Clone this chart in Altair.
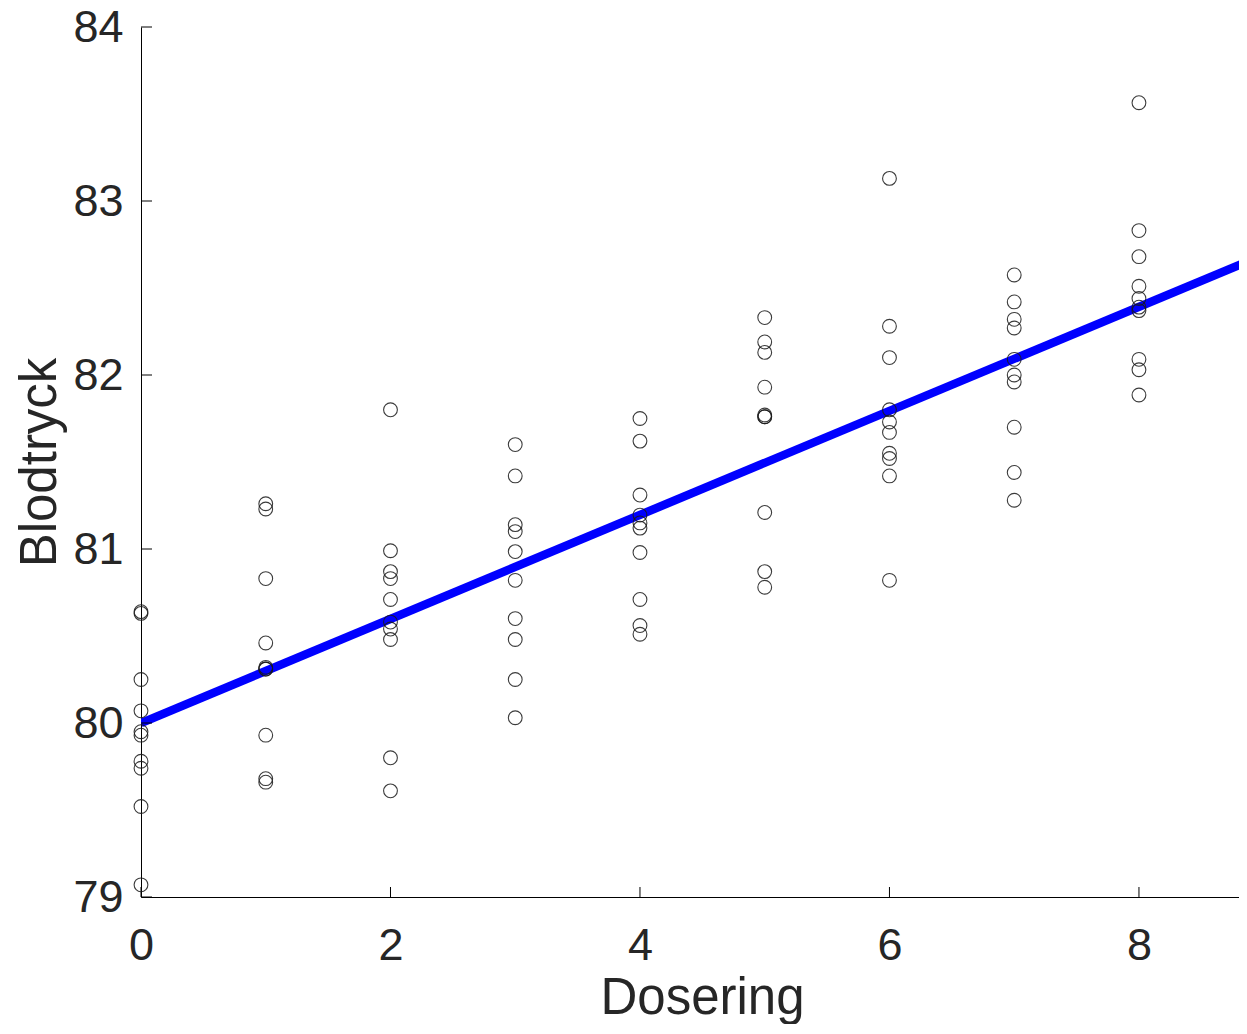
import altair as alt
import pandas as pd

# Observations: dose level and the measured blood pressure values
dose_levels = [0, 1, 2, 3, 4, 5, 6, 7, 8]
bp_dose0 = [80.64, 80.63, 80.25, 80.07, 79.95, 79.93, 79.78, 79.74, 79.52, 79.07]
bp_dose1 = [81.26, 81.23, 80.83, 80.46, 80.32, 80.31, 80.31, 79.93, 79.68, 79.66]
bp_dose2 = [81.80, 80.99, 80.87, 80.83, 80.71, 80.58, 80.54, 80.48, 79.80, 79.61]
bp_dose3 = [81.60, 81.42, 81.14, 81.10, 80.985, 80.82, 80.60, 80.48, 80.25, 80.03]
bp_dose4 = [81.75, 81.62, 81.31, 81.195, 81.15, 81.12, 80.98, 80.71, 80.56, 80.51]
bp_dose5 = [82.33, 82.19, 82.13, 81.93, 81.77, 81.76, 81.76, 81.21, 80.87, 80.78]
bp_dose6 = [83.13, 82.28, 82.10, 81.80, 81.73, 81.67, 81.55, 81.52, 81.42, 80.82]
bp_dose7 = [82.575, 82.42, 82.32, 82.27, 82.09, 82.00, 81.96, 81.70, 81.44, 81.28]
bp_dose8 = [83.565, 82.83, 82.68, 82.51, 82.44, 82.39, 82.37, 82.09, 82.03, 81.885]

# Fitted regression line
fit_intercept = 80.0
fit_slope = 0.299

x_ticks = [0, 2, 4, 6, 8]
y_ticks = [79, 80, 81, 82, 83, 84]
x_domain = [0, 8.802]
y_domain = [79, 84]

groups = [bp_dose0, bp_dose1, bp_dose2, bp_dose3, bp_dose4,
          bp_dose5, bp_dose6, bp_dose7, bp_dose8]
rows = []
for d, vals in zip(dose_levels, groups):
    for v in vals:
        rows.append({"Dosering": d, "Blodtryck": v})
pts = pd.DataFrame(rows)

line_x = [0, 9]
line_df = pd.DataFrame({"Dosering": line_x,
                        "Blodtryck": [fit_intercept + fit_slope * x for x in line_x]})

W, H = 1098, 870
FONT = "Liberation Sans"
TXT = "#262626"

xscale = alt.Scale(domain=x_domain, nice=False, zero=False)
yscale = alt.Scale(domain=y_domain, nice=False, zero=False)

x_axis = alt.Axis(values=x_ticks, grid=False, tickSize=0, labelFontSize=45,
                  labelFont=FONT, labelColor=TXT, labelPadding=26,
                  domainColor="#000000", domainWidth=1,
                  title="Dosering", titleFontSize=51, titleFont=FONT,
                  titleFontWeight="normal", titleColor=TXT,
                  titleX=561, titleY=116, titleBaseline="alphabetic",
                  titleAlign="center", titleAnchor="start", labelFlush=False)
y_axis = alt.Axis(values=y_ticks, grid=False, tickSize=0, labelFontSize=45,
                  labelFont=FONT, labelColor=TXT, labelPadding=18,
                  domainColor="#000000", domainWidth=1,
                  title="Blodtryck", titleFontSize=51, titleFont=FONT,
                  titleFontWeight="normal", titleColor=TXT,
                  titleX=-86, titleY=435, titleAngle=270,
                  titleBaseline="alphabetic", titleAlign="center",
                  titleAnchor="start", labelFlush=False)

line = alt.Chart(line_df).mark_line(color="#0000ff", strokeWidth=8.5,
                                    clip=True, strokeCap="butt").encode(
    x=alt.X("Dosering:Q", scale=xscale, axis=x_axis),
    y=alt.Y("Blodtryck:Q", scale=yscale, axis=y_axis),
)

points = alt.Chart(pts).mark_point(shape="circle", filled=False, size=190,
                                   stroke="#1a1a1a", strokeWidth=1.1,
                                   opacity=0.85).encode(
    x=alt.X("Dosering:Q", scale=xscale, axis=x_axis),
    y=alt.Y("Blodtryck:Q", scale=yscale, axis=y_axis),
)

xt = alt.Chart(pd.DataFrame({"Dosering": x_ticks})).mark_rule(color="#000000", strokeWidth=1).encode(
    x=alt.X("Dosering:Q", scale=xscale, axis=x_axis),
    y=alt.value(H),
    y2=alt.value(H - 10),
)
yt = alt.Chart(pd.DataFrame({"Blodtryck": y_ticks})).mark_rule(color="#000000", strokeWidth=1).encode(
    y=alt.Y("Blodtryck:Q", scale=yscale, axis=y_axis),
    x=alt.value(0),
    x2=alt.value(11),
)

chart = alt.layer(line, xt, yt, points).properties(
    width=W, height=H,
    background="white",
    autosize=alt.AutoSizeParams(type="none"),
    padding={"left": 133, "top": 19, "right": 0, "bottom": 127},
).configure_view(stroke=None)

chart.save("out.html", embed_options={"renderer": "svg", "actions": False})
